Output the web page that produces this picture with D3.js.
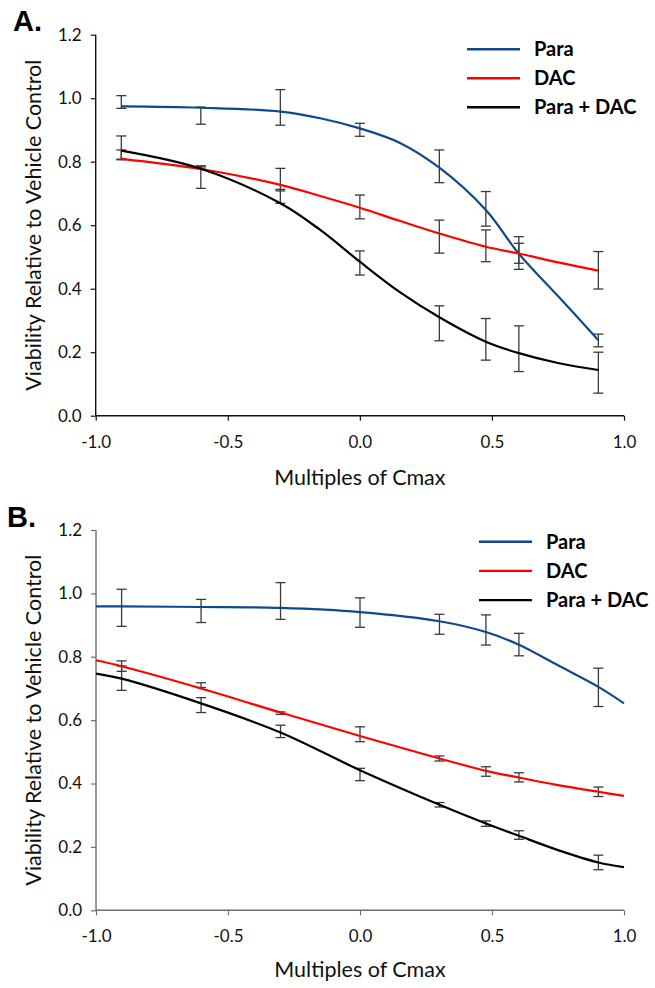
<!DOCTYPE html>
<html lang="en">
<head>
    <meta charset="UTF-8">
    <title>Viability vs Multiples of Cmax</title>
    <script src="https://d3js.org/d3.v7.min.js"></script>
    <style>
        body { margin: 0; background: #fff; }
        svg { display: block; }
        .tick text { font-family: Lato, "Open Sans", sans-serif; font-size: 17px; fill: #111; }
        .axis-title { font-family: Lato, "Open Sans", sans-serif; font-size: 21.5px; fill: #111; }
        .legend text { font-family: Lato, "Open Sans", sans-serif; font-size: 20px; font-weight: bold; fill: #000; }
        .panel-label { font-family: Arial, "Liberation Sans", sans-serif; font-size: 29px; font-weight: bold; }
    </style>
</head>
<body>
<svg width="655" height="988"></svg>
<script>
// dose positions (log10 multiples of Cmax)
const doses = [-0.903, -0.602, -0.301, 0, 0.301, 0.477, 0.602, 0.903];
const seriesNames = ["Para", "DAC", "Para + DAC"];
const xTicks = [-1.0, -0.5, 0.0, 0.5, 1.0];
const yTicks = [0.0, 0.2, 0.4, 0.6, 0.8, 1.0, 1.2];

// Panel A: error bar ends
const paraA_lo  = [0.968, 0.918, 0.915, 0.880, 0.734, 0.597, 0.461, 0.217];
const paraA_hi  = [1.008, 0.972, 1.027, 0.921, 0.837, 0.706, 0.564, 0.257];
const dacA_lo   = [0.806, 0.780, 0.708, 0.620, 0.512, 0.485, 0.480, 0.399];
const dacA_hi   = [0.837, 0.787, 0.779, 0.695, 0.616, 0.585, 0.543, 0.517];
const comboA_lo = [0.808, 0.716, 0.669, 0.443, 0.236, 0.175, 0.139, 0.071];
const comboA_hi = [0.881, 0.786, 0.713, 0.519, 0.346, 0.306, 0.283, 0.200];

// Panel A: fitted curves
const curveXA   = [-0.903, -0.602, -0.301, -0.15, 0, 0.15, 0.301, 0.477, 0.602, 0.75, 0.903];
const paraA_fit  = [0.974, 0.970, 0.958, 0.937, 0.905, 0.860, 0.781, 0.648, 0.510, 0.377, 0.238];
const dacA_fit   = [0.809, 0.777, 0.727, 0.692, 0.655, 0.614, 0.574, 0.532, 0.511, 0.483, 0.457];
const comboA_fit = [0.835, 0.778, 0.669, 0.585, 0.485, 0.390, 0.310, 0.233, 0.197, 0.166, 0.144];

// Panel B: error bar ends
const paraB_lo  = [0.896, 0.908, 0.918, 0.893, 0.871, 0.837, 0.803, 0.643];
const paraB_hi  = [1.013, 0.981, 1.034, 0.986, 0.934, 0.932, 0.874, 0.764];
const dacB_lo   = [0.754, 0.703, 0.618, 0.532, 0.471, 0.423, 0.405, 0.359];
const dacB_hi   = [0.787, 0.718, 0.626, 0.579, 0.487, 0.453, 0.434, 0.389];
const comboB_lo = [0.694, 0.624, 0.545, 0.409, 0.326, 0.265, 0.224, 0.128];
const comboB_hi = [0.771, 0.671, 0.584, 0.448, 0.340, 0.282, 0.251, 0.174];

// Panel B: fitted curves
const curveXB    = [-1.0, -0.903, -0.602, -0.301, 0, 0.301, 0.477, 0.602, 0.75, 0.903, 1.0];
const paraB_fit  = [0.959, 0.959, 0.957, 0.954, 0.941, 0.912, 0.878, 0.838, 0.773, 0.705, 0.653];
const dacB_fit   = [0.789, 0.770, 0.700, 0.624, 0.550, 0.479, 0.440, 0.419, 0.395, 0.374, 0.361];
const comboB_fit = [0.747, 0.731, 0.653, 0.561, 0.442, 0.333, 0.274, 0.235, 0.190, 0.151, 0.136];

const colors = ["#10498a", "#ff0000", "#000000"];

const svg = d3.select("svg");

// excel style labels with a plain hyphen for negatives
const fmt = d => d.toFixed(1);

function drawPanel(cfg) {
    const x = d3.scaleLinear().domain([-1, 1]).range([cfg.left, cfg.right]);
    const y = d3.scaleLinear().domain([0, 1.2]).range([cfg.bottom, cfg.top]);
    const g = svg.append("g");

    // axes
    const yAxis = g.append("g")
        .attr("transform", `translate(${cfg.left},0)`)
        .call(d3.axisLeft(y).tickValues(yTicks).tickFormat(fmt).tickSizeOuter(0).tickSize(5).tickPadding(9));
    const xAxis = g.append("g")
        .attr("transform", `translate(0,${cfg.bottom})`)
        .call(d3.axisBottom(x).tickValues(xTicks).tickFormat(fmt).tickSizeOuter(0).tickSize(5).tickPadding(15));
    [xAxis, yAxis].forEach(a => {
        a.select(".domain").attr("stroke", cfg.axisColor).attr("stroke-width", 1.4);
        a.selectAll(".tick line").attr("stroke", cfg.axisColor).attr("stroke-width", 1.2);
    });
    yAxis.select(".domain").attr("d", `M0,${cfg.bottom}V${cfg.top}`);
    xAxis.select(".domain").attr("d", `M${cfg.left},0H${cfg.right}`);

    // error bars
    const capW = 5;
    cfg.bars.forEach(([lo, hi]) => {
        const eb = g.append("g").attr("stroke", "#3a3a3a").attr("stroke-width", 1.3);
        doses.forEach((d, i) => {
            const cx = x(d);
            eb.append("line").attr("x1", cx).attr("x2", cx).attr("y1", y(lo[i])).attr("y2", y(hi[i]));
            eb.append("line").attr("x1", cx - capW).attr("x2", cx + capW).attr("y1", y(lo[i])).attr("y2", y(lo[i]));
            eb.append("line").attr("x1", cx - capW).attr("x2", cx + capW).attr("y1", y(hi[i])).attr("y2", y(hi[i]));
        });
    });

    // fitted curves
    const line = d3.line().x(d => x(d[0])).y(d => y(d[1])).curve(d3.curveCatmullRom.alpha(0.5));
    cfg.fits.forEach((vals, k) => {
        g.append("path")
            .datum(cfg.fitX.map((v, i) => [v, vals[i]]))
            .attr("fill", "none")
            .attr("stroke", colors[k])
            .attr("stroke-width", 2.2)
            .attr("d", line);
    });

    // axis titles
    g.append("text").attr("class", "axis-title")
        .attr("text-anchor", "middle")
        .attr("transform", `translate(${cfg.yTitleX},${(cfg.top + cfg.bottom) / 2}) rotate(-90)`)
        .attr("dy", "0.35em")
        .text("Viability Relative to Vehicle Control");
    g.append("text").attr("class", "axis-title")
        .attr("text-anchor", "middle")
        .attr("x", (cfg.left + cfg.right) / 2)
        .attr("y", cfg.xTitleY)
        .text("Multiples of Cmax");

    // legend
    const lg = g.append("g").attr("class", "legend");
    seriesNames.forEach((name, k) => {
        const ly = cfg.legendY + k * cfg.legendStep;
        lg.append("line").attr("x1", cfg.legendX).attr("x2", cfg.legendX + 53)
            .attr("y1", ly).attr("y2", ly)
            .attr("stroke", colors[k]).attr("stroke-width", 2.4);
        lg.append("text").attr("x", cfg.legendX + 67).attr("y", ly).attr("dy", "0.35em").text(name);
    });

    // panel letter
    g.append("text").attr("class", "panel-label")
        .attr("x", cfg.labelX).attr("y", cfg.labelY).text(cfg.label);
}

drawPanel({
    left: 95.7, right: 624, top: 34.7, bottom: 415.7,
    axisColor: "#111",
    bars: [[paraA_lo, paraA_hi], [dacA_lo, dacA_hi], [comboA_lo, comboA_hi]],
    fitX: curveXA, fits: [paraA_fit, dacA_fit, comboA_fit],
    yTitleX: 33, xTitleY: 485,
    legendX: 467, legendY: 49.3, legendStep: 29,
    label: "A.", labelX: 13, labelY: 31
});

drawPanel({
    left: 96, right: 624, top: 530, bottom: 910.3,
    axisColor: "#6e6e6e",
    bars: [[paraB_lo, paraB_hi], [dacB_lo, dacB_hi], [comboB_lo, comboB_hi]],
    fitX: curveXB, fits: [paraB_fit, dacB_fit, comboB_fit],
    yTitleX: 33, xTitleY: 977,
    legendX: 479, legendY: 541.7, legendStep: 29.2,
    label: "B.", labelX: 7, labelY: 527
});
</script>
</body>
</html>
